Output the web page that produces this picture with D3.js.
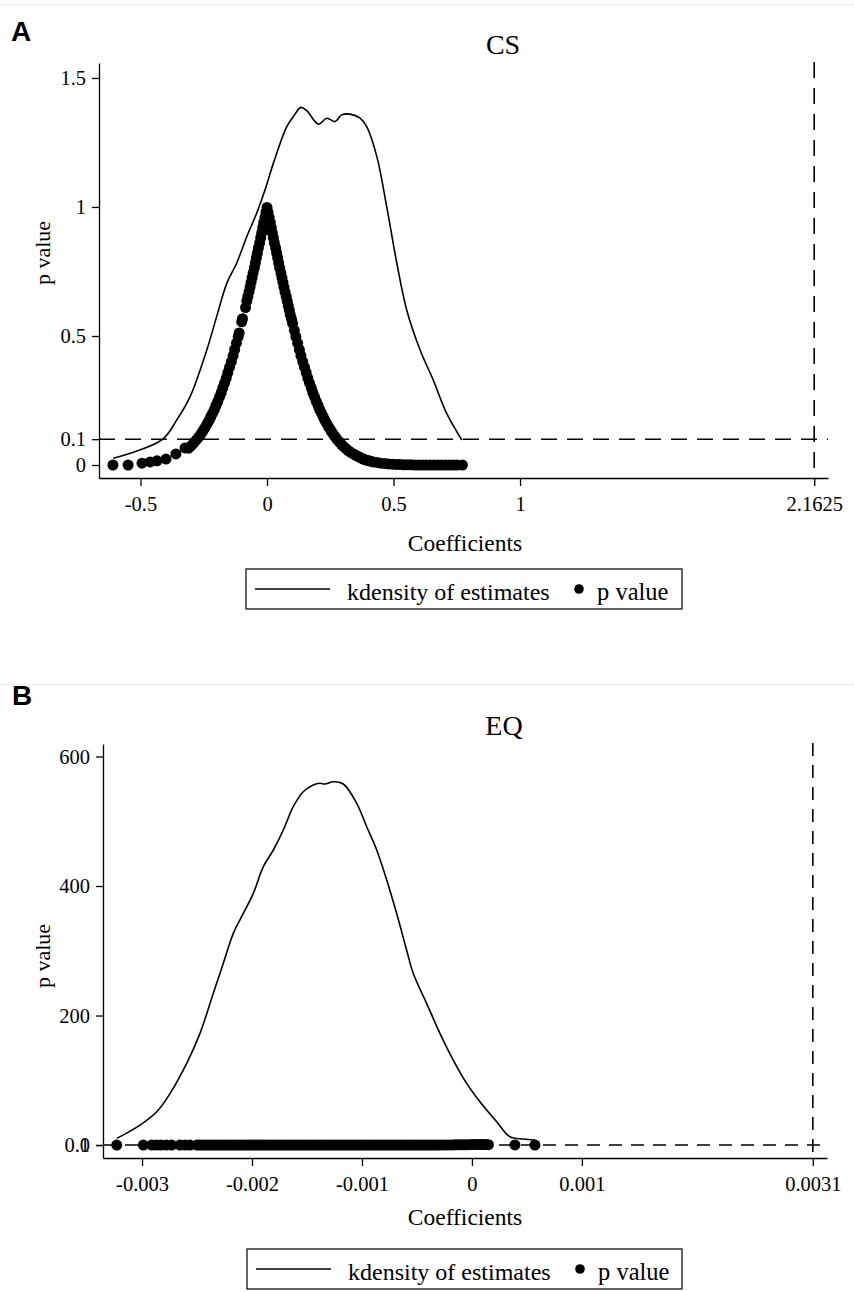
<!DOCTYPE html>
<html><head><meta charset="utf-8">
<script src="https://cdn.jsdelivr.net/npm/d3@7/dist/d3.min.js"></script>
<style>body{margin:0;background:#fff}svg{display:block}</style>
</head><body>
<svg id="c" width="854" height="1292"></svg>
<script>
// ---------- Panel A: CS ----------
const csDensX = [-0.6075,-0.416,-0.357,-0.304,-0.238,-0.199,-0.159,-0.120,-0.080,-0.041,-0.008,0.025,0.078,0.104,0.134,0.157,0.203,0.236,0.269,0.295,0.328,0.368,0.394,0.434,0.473,0.513,0.552,0.605,0.657,0.710,0.770];
const csDensY = [0.026,0.097,0.174,0.265,0.446,0.575,0.704,0.782,0.885,0.976,1.066,1.169,1.311,1.350,1.386,1.373,1.321,1.344,1.331,1.357,1.360,1.344,1.311,1.195,1.001,0.782,0.601,0.446,0.329,0.200,0.097];
const csPCoef = [-0.609,-0.549,-0.494,-0.462,-0.435,-0.399,-0.360,-0.324,
 -0.310,-0.300,-0.290,-0.280,-0.270,-0.262,-0.255,-0.249,-0.242,-0.235,-0.228,-0.222,-0.215,-0.208,-0.202,-0.195,-0.188,-0.181,-0.175,-0.168,-0.161,-0.155,-0.148,-0.141,-0.134,-0.128,-0.121,-0.114,-0.110,
 -0.100,-0.097,-0.085,-0.080,-0.076,-0.071,-0.067,-0.063,-0.059,-0.055,-0.050,-0.046,-0.042,-0.038,-0.034,-0.029,-0.025,-0.021,-0.017,-0.013,-0.008,-0.004,0.000,
 0.004,0.008,0.013,0.017,0.021,0.025,0.029,0.034,0.038,0.042,0.046,0.050,0.055,0.059,0.063,0.067,0.071,0.076,0.080,0.084,0.088,0.092,0.097,0.101,0.108,0.114,0.121,0.128,0.134,0.141,0.148,0.155,0.161,0.168,0.175,0.181,0.188,0.195,0.202,0.208,0.215,0.222,0.228,0.235,0.242,0.249,0.255,0.262,0.269,0.277,0.286,0.294,0.302,0.311,0.319,0.328,0.336,0.345,0.353,0.362,0.370,0.378,0.386,0.395,0.403,0.412,0.420,0.435,0.450,0.465,0.480,0.495,0.510,0.525,0.540,0.555,0.570,0.585,0.600,0.615,0.630,0.645,0.660,0.675,0.690,0.705,0.720,0.735,0.750,0.772];
const csPVal = [0.000,0.000,0.007,0.012,0.016,0.023,0.043,0.066,
 0.065,0.074,0.085,0.096,0.108,0.119,0.129,0.139,0.150,0.162,0.174,0.187,0.201,0.215,0.230,0.246,0.263,0.280,0.298,0.317,0.337,0.358,0.379,0.401,0.424,0.447,0.472,0.497,0.512,
 0.555,0.567,0.610,0.635,0.653,0.671,0.689,0.708,0.726,0.745,0.764,0.783,0.803,0.822,0.841,0.861,0.881,0.900,0.920,0.940,0.960,0.980,0.998,
 0.980,0.960,0.940,0.920,0.900,0.881,0.861,0.841,0.822,0.803,0.783,0.764,0.745,0.726,0.708,0.689,0.671,0.653,0.635,0.617,0.600,0.582,0.565,0.549,0.522,0.497,0.472,0.447,0.424,0.401,0.379,0.358,0.337,0.317,0.298,0.280,0.263,0.246,0.230,0.215,0.201,0.187,0.174,0.162,0.150,0.139,0.129,0.119,0.110,0.099,0.089,0.080,0.072,0.064,0.057,0.051,0.046,0.041,0.036,0.032,0.028,0.024,0.021,0.018,0.016,0.014,0.012,0.010,0.007,0.006,0.004,0.003,0.002,0.002,0.001,0.001,0.001,0.000,0.000,0.000,0.000,0.000,0.000,0.000,0.000,0.000,0.000,0.000,0.000,0.000];
const csXTicks = [-0.5, 0, 0.5, 1, 2.1625];
const csXLabels = ["-0.5", "0", "0.5", "1", "2.1625"];
const csYTicks = [0, 0.1, 0.5, 1, 1.5];
const csYLabels = ["0", "0.1", "0.5", "1", "1.5"];
const csThreshold = 0.1;
const csRefLine = 2.1625;

// ---------- Panel B: EQ ----------
const eqDensX = [-0.003230,-0.003018,-0.002866,-0.002745,-0.002594,-0.002473,-0.002352,-0.002261,-0.002170,-0.002079,-0.001988,-0.001897,-0.001806,-0.001715,-0.001625,-0.001534,-0.001443,-0.001382,-0.001336,-0.001261,-0.001170,-0.001048,-0.000957,-0.000866,-0.000775,-0.000685,-0.000594,-0.000534,-0.000412,-0.000291,-0.000170,-0.000048,0.000073,0.000225,0.000345,0.000466,0.000573];
const eqDensY = [10.3,30.9,51.4,79.8,126.2,172.5,234.3,280.6,326.9,357.8,388.7,429.8,455.6,486.5,522.5,545.6,556.0,558.6,557.5,561.1,557.5,527.7,491.6,455.6,409.3,357.8,301.2,265.2,218.8,172.5,131.3,95.3,66.9,36.0,12.8,9.3,7.7];
const eqPCoef = [-0.00323,-0.002988,-0.002912,-0.00287,-0.00283,-0.00278,-0.00273,-0.002655,-0.002609,-0.002564,
 -0.0025,-0.002475,-0.00245,-0.002425,-0.0024,-0.002375,-0.00235,-0.002325,-0.0023,-0.002275,
 -0.00225,-0.002225,-0.0022,-0.002175,-0.00215,-0.002125,-0.0021,-0.002075,-0.00205,-0.002025,
 -0.002,-0.001975,-0.00195,-0.001925,-0.0019,-0.001875,-0.00185,-0.001825,-0.0018,-0.001775,
 -0.00175,-0.001725,-0.0017,-0.001675,-0.00165,-0.001625,-0.0016,-0.001575,-0.00155,-0.001525,
 -0.0015,-0.001475,-0.00145,-0.001425,-0.0014,-0.001375,-0.00135,-0.001325,-0.0013,-0.001275,
 -0.00125,-0.001225,-0.0012,-0.001175,-0.00115,-0.001125,-0.0011,-0.001075,-0.00105,-0.001025,
 -0.001,-0.000975,-0.00095,-0.000925,-0.0009,-0.000875,-0.00085,-0.000825,-0.0008,-0.000775,
 -0.00075,-0.000725,-0.0007,-0.000675,-0.00065,-0.000625,-0.0006,-0.000575,-0.00055,-0.000525,
 -0.0005,-0.000475,-0.00045,-0.000425,-0.0004,-0.000375,-0.00035,-0.000325,-0.0003,-0.000275,
 -0.00025,-0.000225,-0.0002,-0.000175,-0.00015,-0.000125,-0.0001,-0.000075,-0.00005,-0.000025,
 0,0.000025,0.00005,0.000075,0.0001,0.000125,0.00015,
 0.000391,0.000573];
const eqPVal = [0,0,0,0,0,0,0,0,0,0,
 0,0,0,0,0,0,0,0,0,0,
 0,0,0,0,0,0,0,0,0,0,
 0,0,0,0,0,0,0,0,0,0,
 0,0,0,0,0,0,0,0,0,0,
 0,0,0,0,0,0,0,0,0,0,
 0,0,0,0,0,0,0,0,0,0,
 0.001,0.001,0.001,0.001,0.002,0.002,0.002,0.003,0.003,0.004,
 0.004,0.005,0.006,0.007,0.008,0.009,0.011,0.013,0.015,0.017,
 0.02,0.025,0.03,0.035,0.04,0.05,0.06,0.07,0.09,0.11,
 0.13,0.16,0.20,0.24,0.29,0.34,0.40,0.47,0.55,0.65,
 0.75,0.85,0.95,0.86,0.77,0.69,0.61,
 0.13,0.04];
const eqXTicks = [-0.003, -0.002, -0.001, 0, 0.001, 0.0031];
const eqXLabels = ["-0.003", "-0.002", "-0.001", "0", "0.001", "0.0031"];
const eqYTicks = [0, 0.1, 200, 400, 600];
const eqYLabels = ["0", "0.1", "200", "400", "600"];
const eqThreshold = 0.1;
const eqRefLine = 0.0031;

const legendLabels = ["kdensity of estimates", "p value"];
const xTitle = "Coefficients";
const yTitle = "p value";

// ---------- drawing ----------
const SERIF = "'Liberation Serif','Times New Roman',Times,serif";
const svg = d3.select("#c");
svg.append("rect").attr("width", 854).attr("height", 1292).attr("fill", "#fff");
svg.append("line").attr("x1", 0).attr("x2", 854).attr("y1", 4.5).attr("y2", 4.5).attr("stroke", "#f0f0f0");
svg.append("line").attr("x1", 0).attr("x2", 854).attr("y1", 684.5).attr("y2", 684.5).attr("stroke", "#eeeeee");

function panel(o) {
  const x = d3.scaleLinear().domain(o.xDomain).range([o.left, o.right]);
  const y = d3.scaleLinear().domain(o.yDomain).range([o.bottom, o.top]);
  const g = svg.append("g");

  g.append("text").attr("x", o.letterX).attr("y", o.letterY).text(o.letter)
    .attr("font-family", "'Liberation Sans',Arial,sans-serif").attr("font-weight", "bold")
    .attr("font-size", 28).attr("fill", "#000");
  g.append("text").attr("x", o.titleX).attr("y", o.titleY).attr("text-anchor", "middle")
    .attr("font-family", SERIF).attr("font-size", 28).text(o.title);

  g.append("line").attr("x1", x(o.refX)).attr("x2", x(o.refX)).attr("y1", o.top - 1).attr("y2", o.bottom)
    .attr("stroke", "#000").attr("stroke-width", 1.6).attr("stroke-dasharray", o.dash);
  g.append("line").attr("x1", o.left).attr("x2", o.right).attr("y1", y(o.thresh)).attr("y2", y(o.thresh))
    .attr("stroke", "#000").attr("stroke-width", 1.6).attr("stroke-dasharray", o.dash);

  const line = d3.line().x(d => x(d[0])).y(d => y(d[1])).curve(d3.curveCatmullRom.alpha(0.5));
  g.append("path").datum(d3.zip(o.densX, o.densY)).attr("d", line)
    .attr("fill", "none").attr("stroke", "#000").attr("stroke-width", 1.6);

  g.selectAll("circle.pv").data(d3.zip(o.pCoef, o.pVal)).join("circle").attr("class", "pv")
    .attr("cx", d => x(d[0])).attr("cy", d => y(d[1])).attr("r", 5.5).attr("fill", "#000");

  const xa = g.append("g").attr("transform", `translate(0,${o.bottom})`)
    .call(d3.axisBottom(x).tickValues(o.xTicks).tickFormat((d, i) => o.xLabels[i])
      .tickSize(8).tickSizeOuter(0).tickPadding(10));
  const ya = g.append("g").attr("transform", `translate(${o.left},0)`)
    .call(d3.axisLeft(y).tickValues(o.yTicks).tickFormat((d, i) => o.yLabels[i])
      .tickSize(7).tickSizeOuter(0).tickPadding(6));
  [xa, ya].forEach(a => {
    a.attr("font-family", SERIF).attr("font-size", 20.5);
    a.selectAll("path,line").attr("stroke", "#000").attr("stroke-width", 1.3);
    a.selectAll("text").attr("fill", "#000");
  });

  g.append("text").attr("x", o.xTitleX).attr("y", o.xTitleY).attr("text-anchor", "middle")
    .attr("font-family", SERIF).attr("font-size", 23.5).text(xTitle);
  g.append("text").attr("transform", `translate(${o.yTitleX},${o.yTitleY}) rotate(-90)`)
    .attr("text-anchor", "middle").attr("font-family", SERIF).attr("font-size", 22).text(yTitle);

  const L = o.legend;
  g.append("rect").attr("x", L.x).attr("y", L.y).attr("width", L.w).attr("height", L.h)
    .attr("fill", "#fff").attr("stroke", "#000").attr("stroke-width", 1.2);
  const cy = L.y + L.h / 2;
  g.append("line").attr("x1", L.x + 9).attr("x2", L.x + 84).attr("y1", cy).attr("y2", cy)
    .attr("stroke", "#000").attr("stroke-width", 1.6);
  g.append("text").attr("x", L.x + 101).attr("y", cy + 11).attr("font-family", SERIF)
    .attr("font-size", 24).text(legendLabels[0]);
  g.append("circle").attr("cx", L.x + 333).attr("cy", cy).attr("r", 4.8).attr("fill", "#000");
  g.append("text").attr("x", L.x + 351).attr("y", cy + 11).attr("font-family", SERIF)
    .attr("font-size", 24.5).text(legendLabels[1]);
}

panel({
  letter: "A", letterX: 11, letterY: 41, title: "CS", titleX: 503, titleY: 54,
  left: 99, right: 828, top: 63, bottom: 478,
  xDomain: [-0.664, 2.217], yDomain: [-0.0504, 1.558],
  densX: csDensX, densY: csDensY, pCoef: csPCoef, pVal: csPVal,
  xTicks: csXTicks, xLabels: csXLabels, yTicks: csYTicks, yLabels: csYLabels,
  thresh: csThreshold, refX: csRefLine, dash: "16,10",
  xTitleX: 465, xTitleY: 551, yTitleX: 50, yTitleY: 253,
  legend: { x: 246, y: 569, w: 436, h: 40 }
});

panel({
  letter: "B", letterX: 12, letterY: 705, title: "EQ", titleX: 504, titleY: 735,
  left: 103, right: 827, top: 744, bottom: 1158,
  xDomain: [-0.003355, 0.003229], yDomain: [-20, 619.3],
  densX: eqDensX, densY: eqDensY, pCoef: eqPCoef, pVal: eqPVal,
  xTicks: eqXTicks, xLabels: eqXLabels, yTicks: eqYTicks, yLabels: eqYLabels,
  thresh: eqThreshold, refX: eqRefLine, dash: "13,9",
  xTitleX: 465, xTitleY: 1225, yTitleX: 50, yTitleY: 956,
  legend: { x: 247, y: 1249, w: 435, h: 40 }
});
</script>
</body></html>
